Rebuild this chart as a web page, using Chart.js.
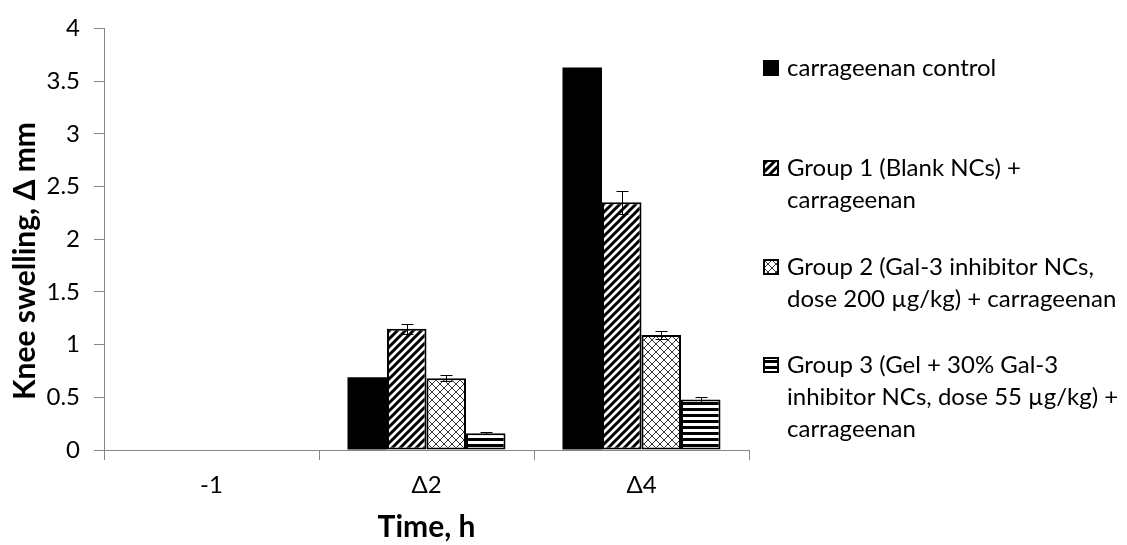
<!DOCTYPE html>
<html lang="en">
<head>
<meta charset="UTF-8">
<title>Knee swelling</title>
<script src="https://cdn.jsdelivr.net/npm/chart.js"></script>
<style>
  body { margin: 0; background: #fff; }
  canvas { display: block; }
</style>
</head>
<body>
<canvas id="swellingChart" width="1127" height="545"></canvas>
<script>
// data
const timeLabels = ['-1', 'Δ2', 'Δ4'];
const controlValues = [0, 0.69, 3.63];
const group1Values = [0, 1.15, 2.35];
const group2Values = [0, 0.68, 1.09];
const group3Values = [0, 0.16, 0.48];
const controlErrors = [0, 0, 0];
const group1Errors = [0, 0.05, 0.11];
const group2Errors = [0, 0.03, 0.04];
const group3Errors = [0, 0.01, 0.02];
const seriesNames = [
  ['carrageenan control'],
  ['Group 1 (Blank NCs) +', 'carrageenan'],
  ['Group 2 (Gal-3 inhibitor NCs,', 'dose 200 µg/kg) + carrageenan'],
  ['Group 3 (Gel + 30% Gal-3', 'inhibitor NCs, dose 55 µg/kg) +', 'carrageenan']
];
const yMin = 0, yMax = 4, yStep = 0.5;

const FONT = 'Lato';
const AXIS_GREY = '#868686';

function makePattern(size, draw) {
  const c = document.createElement('canvas');
  c.width = size;
  c.height = size;
  const g = c.getContext('2d');
  g.fillStyle = '#fff';
  g.fillRect(0, 0, size, size);
  draw(g, size);
  return g.createPattern(c, 'repeat');
}

// wide "/" stripes
const diagonalFill = makePattern(8, (g, s) => {
  g.strokeStyle = '#000';
  g.lineWidth = 3;
  g.beginPath();
  for (let k = -1; k <= 1; k++) {
    g.moveTo(-1, s + k * s + 1);
    g.lineTo(s + 1, k * s - 1);
  }
  g.stroke();
});

// thin diagonal cross hatch
const crossFill = makePattern(8, (g, s) => {
  g.strokeStyle = '#333';
  g.lineWidth = 1;
  g.beginPath();
  for (let k = -1; k <= 1; k++) {
    g.moveTo(-1, s + k * s + 1);
    g.lineTo(s + 1, k * s - 1);
    g.moveTo(-1, k * s - 1);
    g.lineTo(s + 1, s + k * s + 1);
  }
  g.stroke();
});

// horizontal lines
const horizontalFill = makePattern(6, (g, s) => {
  g.fillStyle = '#000';
  g.fillRect(0, 0, s, 3);
});

// error bars drawn over the bars
const errorBars = {
  id: 'errorBars',
  afterDatasetsDraw(chart) {
    const ctx = chart.ctx;
    const y = chart.scales.y;
    ctx.save();
    ctx.strokeStyle = '#000';
    ctx.lineWidth = 1;
    chart.data.datasets.forEach((ds, i) => {
      chart.getDatasetMeta(i).data.forEach((bar, j) => {
        const err = ds.errors[j];
        if (!err) return;
        const v = ds.data[j];
        const top = Math.round(y.getPixelForValue(v + err)) + 0.5;
        const bot = Math.round(y.getPixelForValue(v - err)) + 0.5;
        const x = Math.round(bar.x) + 0.5;
        ctx.beginPath();
        ctx.moveTo(x, top); ctx.lineTo(x, bot);
        ctx.moveTo(x - 6, top); ctx.lineTo(x + 6, top);
        ctx.moveTo(x - 6, bot); ctx.lineTo(x + 6, bot);
        ctx.stroke();
      });
    });
    ctx.restore();
  }
};

// legend on the right, multi-line entries like the original
const sideLegend = {
  id: 'sideLegend',
  afterDraw(chart) {
    const ctx = chart.ctx;
    const firstLineY = [68, 168, 267, 365];
    const lineGap = 32;
    const boxX = 763, textX = 787;
    ctx.save();
    ctx.font = '24px ' + FONT;
    ctx.textBaseline = 'middle';
    chart.data.datasets.forEach((ds, i) => {
      const y0 = firstLineY[i];
      ctx.fillStyle = ds.backgroundColor;
      ctx.fillRect(boxX, y0 - 8, 16, 16);
      if (ds.borderWidth) {
        ctx.strokeStyle = '#000';
        ctx.lineWidth = 2;
        ctx.strokeRect(boxX + 1, y0 - 7, 14, 14);
      }
      ctx.fillStyle = '#000';
      seriesNames[i].forEach((line, k) => ctx.fillText(line, textX, y0 + k * lineGap));
    });
    ctx.restore();
  }
};

const ctx = document.getElementById('swellingChart').getContext('2d');
new Chart(ctx, {
  type: 'bar',
  data: {
    labels: timeLabels,
    datasets: [
      { label: seriesNames[0].join(' '), data: controlValues, errors: controlErrors,
        backgroundColor: '#000', borderColor: '#000', borderWidth: 0 },
      { label: seriesNames[1].join(' '), data: group1Values, errors: group1Errors,
        backgroundColor: diagonalFill, borderColor: '#000', borderWidth: 2, borderSkipped: false },
      { label: seriesNames[2].join(' '), data: group2Values, errors: group2Errors,
        backgroundColor: crossFill, borderColor: '#000', borderWidth: 2, borderSkipped: false },
      { label: seriesNames[3].join(' '), data: group3Values, errors: group3Errors,
        backgroundColor: horizontalFill, borderColor: '#000', borderWidth: 2, borderSkipped: false }
    ]
  },
  options: {
    responsive: false,
    animation: false,
    barPercentage: 1,
    categoryPercentage: 0.735,
    layout: { padding: { left: 0, top: 19, right: 378, bottom: 0 } },
    plugins: {
      legend: { display: false },
      tooltip: { enabled: false }
    },
    scales: {
      x: {
        grid: { offset: true, drawOnChartArea: false, color: AXIS_GREY, tickLength: 10 },
        border: { color: AXIS_GREY },
        ticks: { font: { family: FONT, size: 24 }, color: '#000', padding: 11 },
        title: {
          display: true, text: 'Time, h', color: '#000',
          font: { family: FONT, size: 30, weight: 'bold' },
          padding: { top: 0, bottom: 0 }
        },
        afterFit(scale) { scale.height = 95; }
      },
      y: {
        min: yMin,
        max: yMax,
        grid: { drawOnChartArea: false, color: AXIS_GREY, tickLength: 10 },
        border: { color: AXIS_GREY },
        ticks: {
          stepSize: yStep, font: { family: FONT, size: 24 }, color: '#000', padding: 14,
          callback: v => String(v)
        },
        title: {
          display: true,
          // trailing spaces nudge the rotated title down, as in the original
          text: 'Knee swelling, Δ mm' + '\u00a0'.repeat(6),
          color: '#000',
          font: { family: FONT, size: 30, weight: 'bold' },
          padding: { top: 7, bottom: 0 }
        },
        afterFit(scale) { scale.width = 104; }
      }
    }
  },
  plugins: [errorBars, sideLegend]
});
</script>
</body>
</html>
